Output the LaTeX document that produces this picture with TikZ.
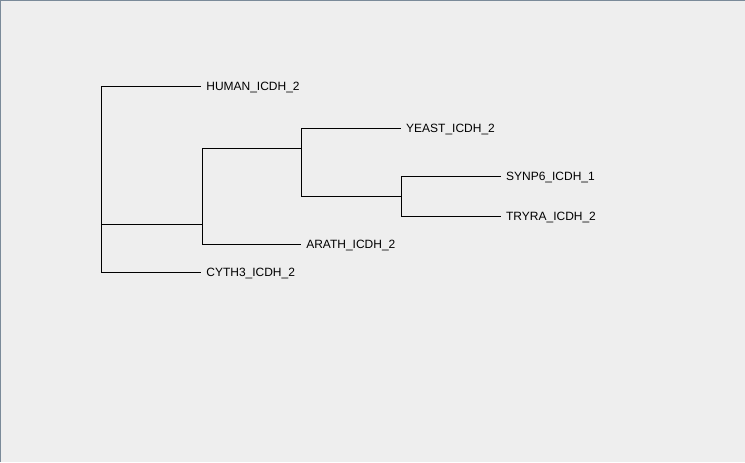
\documentclass[tikz,border=0pt]{standalone}
\usepackage{fontspec}
\setmainfont{Liberation Sans}
\definecolor{panel}{HTML}{EEEEEE}
\definecolor{frame}{HTML}{7A8A99}

\begin{document}
\begin{tikzpicture}[x=1pt, y=-1pt, line width=1pt,
    leaf/.style={anchor=west, inner xsep=5pt, inner ysep=0pt,
      text height=8.6pt, text depth=0pt, font=\fontsize{12}{14}\selectfont}]
  % background and frame
  \fill[panel] (0,0) rectangle (745,462);
  \draw[frame] (0.5,462) -- (0.5,0.5) -- (745,0.5);
  % leaves: name, tip x, tip y, label
  \foreach \name/\lx/\ly/\txt in {%
      hum/201/86.5/HUMAN\_ICDH\_2,
      yea/401/128.5/YEAST\_ICDH\_2,
      syn/501/176.5/SYNP6\_ICDH\_1,
      try/501/216.5/TRYRA\_ICDH\_2,
      ara/301/244.5/ARATH\_ICDH\_2,
      cyt/201/272.5/CYTH3\_ICDH\_2} {
    \node[leaf] (\name) at (\lx, \ly) {\txt};
  }
  % inner nodes
  \coordinate (root) at (101.5, 224.5);
  \coordinate (a) at (202.5, 224.5);
  \coordinate (b) at (301.5, 148.5);
  \coordinate (c) at (401.5, 196.5);
  % branches
  \draw (root) |- (hum.west);
  \draw (root) |- (cyt.west);
  \draw (root) -- (a);
  \draw (a) |- (b);
  \draw (a) |- (ara.west);
  \draw (b) |- (yea.west);
  \draw (b) |- (c);
  \draw (c) |- (syn.west);
  \draw (c) |- (try.west);
\end{tikzpicture}
\end{document}
